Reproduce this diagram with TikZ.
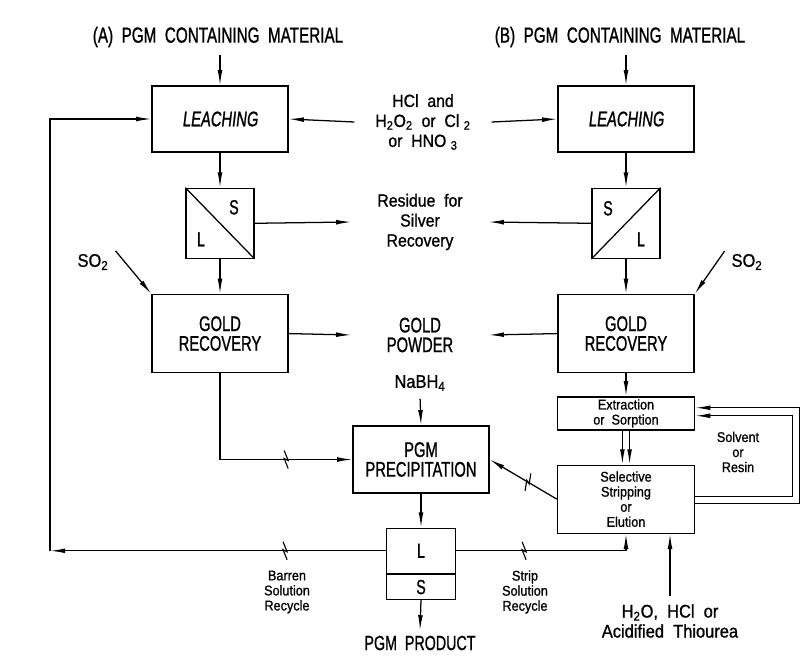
\documentclass[tikz,border=0pt]{standalone}
\usepackage{fontspec}
\setmainfont[FakeStretch=0.9,FakeBold=1]{Liberation Sans}
\newfontfamily\capsfont[FakeStretch=0.7,FakeBold=1]{Liberation Sans}
\newfontfamily\capsslant[FakeStretch=0.7,FakeSlant=0.12,FakeBold=1]{Liberation Sans}
\usepackage{tikz}
\usetikzlibrary{arrows.meta, positioning, calc}

\begin{document}
\begin{tikzpicture}[x=0.025cm, y=-0.025cm, line width=0.9pt,
  unitbox/.style={rectangle, draw, minimum width=3.4cm, minimum height=1.65cm,
                  align=center, font=\capsfont\fontsize{15}{14}\selectfont},
  leachbox/.style={unitbox, font=\capsslant\fontsize{15}{14}\selectfont},
  sepbox/.style={rectangle, draw, minimum width=1.7cm, minimum height=1.75cm},
  lsbox/.style={rectangle, draw, minimum width=1.725cm, inner sep=0pt,
                font=\capsfont\fontsize{14.5}{14}\selectfont},
  smallbox/.style={rectangle, draw, minimum width=3.425cm, inner sep=1pt,
                   align=center, font=\fontsize{10}{10.7}\selectfont},
  sl/.style={inner sep=0pt, font=\capsfont\fontsize{14.5}{14}\selectfont},
  title/.style={font=\capsfont\fontsize{15.5}{15}\selectfont},
  midtext/.style={minimum width=3.4cm, inner sep=0pt, align=center},
  capstext/.style={align=center, font=\capsfont\fontsize{15}{14}\selectfont},
  chemtext/.style={align=center, font=\fontsize{12.5}{14.2}\selectfont},
  note/.style={align=center, font=\fontsize{10}{10.7}\selectfont},
  arrow/.style={-{Latex[length=3.8mm, width=1.2mm]}},
  feed/.style={arrow, shorten <=2pt},
  brk/.pic={\draw[-, line width=0.8pt] (-2,-9) -- (2,1) -- (-2,-1) -- (2,9);}
]
\useasboundingbox (0,0) rectangle (804,657);

%% --- Feed materials (top) ---
\node[title] (titleA) at (218,37) {(A)\ \ PGM\ \ CONTAINING\ \ MATERIAL};
\node[title] (titleB) at (620,37) {(B)\ \ PGM\ \ CONTAINING\ \ MATERIAL};

%% --- Route A (left column) ---
\node[leachbox] (leachA) at (220,119) {LEACHING};
\node[sepbox, below=0.875cm of leachA] (slA) {};
\node[unitbox, minimum height=1.95cm, below=0.875cm of slA] (goldA) {GOLD\\RECOVERY};
\node[sl] (slAs) at ($(slA.center)+(14,-16)$) {S};
\node[sl] (slAl) at ($(slA.center)+(-19,16)$) {L};
\draw (slA.north west) -- (slA.south east);

%% --- Route B (right column) ---
\node[leachbox] (leachB) at (626,119) {LEACHING};
\node[sepbox, below=0.875cm of leachB] (slB) {};
\node[unitbox, minimum height=1.95cm, below=0.875cm of slB] (goldB) {GOLD\\RECOVERY};
\node[sl] (slBs) at ($(slB.center)+(-18,-15)$) {S};
\node[sl] (slBl) at ($(slB.center)+(15,16)$) {L};
\draw (slB.south west) -- (slB.north east);
\node[smallbox, minimum height=0.825cm, below=0.575cm of goldB] (extr)
    {Extraction\\or\ \ Sorption};
\node[smallbox, minimum height=1.7cm, below=0.85cm of extr] (strip)
    {Selective\\Stripping\\or\\Elution};

%% --- Centre column ---
\node[chemtext, midtext] (reag) at (423,122)
    {HCl\ \ and\\H\textsubscript{2}O\textsubscript{2}\ \ or\ \ Cl\ \textsubscript{2}\\or\ \ HNO\ \textsubscript{3}};
\node[chemtext, midtext] (res) at (420,222) {Residue\ \ for\\Silver\\Recovery};
\node[capstext, midtext] (gp) at (420,335) {GOLD\\POWDER};
\node[chemtext, font=\fontsize{13}{14}\selectfont] (nabh) at (420,383) {NaBH\textsubscript{4}};
\node[unitbox, minimum height=1.675cm] (pgm) at (421,459.5) {PGM\\PRECIPITATION};
\node[lsbox, minimum height=1.125cm, below=0.85cm of pgm] (lsL) {L};
\node[lsbox, minimum height=0.625cm, anchor=north] (lsS) at (lsL.south) {S};
\node[capstext, font=\capsfont\fontsize{14.5}{14}\selectfont] (prod) at (420,643)
    {PGM\ \ PRODUCT};

%% --- Side labels ---
\node[chemtext, font=\fontsize{13}{14}\selectfont] (so2A) at (93,262) {SO\textsubscript{2}};
\node[chemtext, font=\fontsize{13}{14}\selectfont] (so2B) at (747,262) {SO\textsubscript{2}};
\node[note] (solv) at (738,452) {Solvent\\or\\Resin};
\node[note] (barren) at (287,592) {Barren\\Solution\\Recycle};
\node[note] (stripsol) at (525,592) {Strip\\Solution\\Recycle};
\node[chemtext, font=\fontsize{13}{14.2}\selectfont] (water) at (670,621)
    {H\textsubscript{2}O,\ \ HCl\ \ or\\Acidified\ \ Thiourea};
\coordinate (rim) at (50,0);

%% --- Feeds and reagents ---
\draw[feed] (titleA.south -| leachA.north) -- (leachA.north);
\draw[feed] (titleB.south -| leachB.north) -- (leachB.north);
\draw[arrow] (reag.west) -- (leachA.east);
\draw[arrow] (reag.east) -- (leachB.west);
\draw[feed] (so2A.north east) -- (goldA.north west);
\draw[feed] (so2B.north west) -- (goldB.north east);
\draw[feed] (nabh.south) -- (pgm.north);
\draw[feed] (water.north) -- (water.north |- strip.south);

%% --- Main flow ---
\draw[arrow] (leachA.south) -- (slA.north);
\draw[arrow] (slA.south) -- (goldA.north);
\draw[arrow] (leachB.south) -- (slB.north);
\draw[arrow] (slB.south) -- (goldB.north);
\draw[arrow] (slA.east) -- (res.west);
\draw[arrow] (slB.west) -- (res.east);
\draw[arrow] (goldA.east) -- (gp.west);
\draw[arrow] (goldB.west) -- (gp.east);
\draw[arrow] (goldB.south) -- (extr.north);
\draw[arrow] ([xshift=-0.09cm]extr.south) -- ([xshift=-0.09cm]strip.north);
\draw[arrow] ([xshift=0.09cm]extr.south) -- ([xshift=0.09cm]strip.north);
\draw[arrow] (goldA.south) |- pic[pos=0.75]{brk} (pgm.west);
\draw[arrow] (strip.west) -- pic[pos=0.43, sloped]{brk} (pgm.east);
\draw[arrow] (pgm.south) -- (lsL.north);
\draw[arrow] (lsS.south) -- (prod.north);

%% --- Solvent / resin loop ---
\draw[arrow] ([yshift=-0.1cm]strip.east) -| ([xshift=2.6cm, yshift=0.14cm]extr.east)
    -- ([yshift=0.14cm]extr.east);
\draw[arrow] ([yshift=0.075cm]strip.east) -| ([xshift=2.425cm, yshift=-0.06cm]extr.east)
    -- ([yshift=-0.06cm]extr.east);

%% --- Recycles ---
\draw[arrow] (lsL.west) -- pic[pos=0.3]{brk} (rim |- lsL.west);
\draw[arrow] (rim |- lsL.west) |- (leachA.west);
\draw[arrow] (lsL.east) -| pic[pos=0.2]{brk} (strip.south);

\end{tikzpicture}
\end{document}
